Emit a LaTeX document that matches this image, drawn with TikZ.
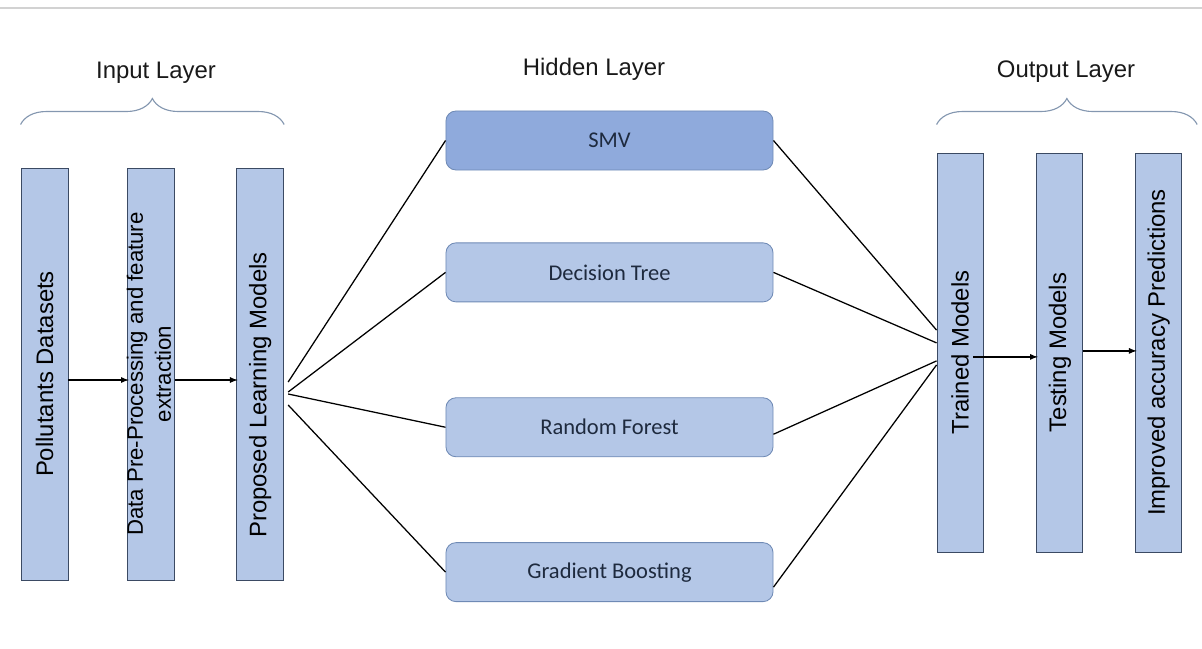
\documentclass[tikz,border=0pt]{standalone}
\usepackage{fontspec}
\setmainfont{Liberation Sans}
\newfontfamily\calibrifont{Carlito}
\usepackage{graphicx}
\usetikzlibrary{positioning,arrows,decorations.pathreplacing}

\definecolor{COL_FILL}{HTML}{B4C7E7}
\definecolor{SMV_FILL}{HTML}{8FAADC}
\definecolor{COL_BORDER}{HTML}{3B4A63}
\definecolor{BOX_BORDER}{HTML}{6F8AB5}
\definecolor{BRACE_COLOR}{HTML}{8497B0}
\definecolor{BOX_TEXT}{HTML}{1E2A3E}
\tikzstyle{layer} = [rectangle, draw=COL_BORDER, line width=0.6pt, fill=COL_FILL, inner sep=0pt]
\tikzstyle{in_stack} = [layer, minimum width=1.175cm, minimum height=10.3cm, font=\fontsize{17}{20}\selectfont]
\tikzstyle{out_stack} = [layer, minimum width=1.15cm, minimum height=9.975cm, font=\fontsize{17}{20}\selectfont]
\tikzstyle{hidden_box} = [layer, draw=BOX_BORDER, rounded corners=0.25cm, minimum width=8.175cm, minimum height=1.475cm, font=\calibrifont\fontsize{16}{19}\selectfont, text=BOX_TEXT]
\tikzstyle{layer_title} = [font=\fontsize{17}{20}\selectfont, text=black!90]
\tikzstyle{link} = [line width=0.9pt, black]
\tikzstyle{arr} = [link, -latex, shorten >=-1pt]
\tikzstyle{curly} = [decorate, decoration={brace, amplitude=0.65cm, aspect=0.5}, draw=BRACE_COLOR, line width=0.8pt]

\begin{document}
\begin{tikzpicture}[x=0.025cm, y=-0.025cm]
      \useasboundingbox (0,0) rectangle (1202,649);
      \draw[gray!35, line width=1.5pt] (0,8) -- (1202,8);

      %%%%%%%%%%%%%%%%%%%%%%%%%%%%%%%%%%%%%%%%%%%%%%%%%
      % INPUT LAYER
      %%%%%%%%%%%%%%%%%%%%%%%%%%%%%%%%%%%%%%%%%%%%%%%%%
      \node[in_stack] (PD) at (44.5,374) {\rotatebox{90}{Pollutants Datasets}};
      \node[in_stack, font=\fontsize{15.8}{19.9}\selectfont, right=1.475cm of PD] (DPP) {\makebox[0pt]{\rotatebox{90}{\begin{tabular}{@{}c@{}}Data Pre-Processing and feature\\extraction\end{tabular}}}};
      \node[in_stack, right=1.525cm of DPP] (PLM) {\rotatebox{90}{\hspace*{-1.05cm}Proposed Learning Models}};

      \node[layer_title] (IL) at (156,73) {Input Layer};
      \draw[curly] ([yshift=1.075cm]PD.north west) -- ([yshift=1.075cm]PLM.north east);

      %%%%%%%%%%%%%%%%%%%%%%%%%%%%%%%%%%%%%%%%%%%%%%%%%
      % HIDDEN LAYER
      %%%%%%%%%%%%%%%%%%%%%%%%%%%%%%%%%%%%%%%%%%%%%%%%%
      \node[layer_title] (HL) at (594,69) {Hidden Layer};
      \node[hidden_box, fill=SMV_FILL] (SMV) at (609.5,140.5) {SMV};
      \node[hidden_box, below=1.8cm of SMV] (DT) {Decision Tree};
      \node[hidden_box, below=2.375cm of DT] (RF) {Random Forest};
      \node[hidden_box, below=2.125cm of RF] (GB) {Gradient Boosting};

      %%%%%%%%%%%%%%%%%%%%%%%%%%%%%%%%%%%%%%%%%%%%%%%%%
      % OUTPUT LAYER
      %%%%%%%%%%%%%%%%%%%%%%%%%%%%%%%%%%%%%%%%%%%%%%%%%
      \node[out_stack] (TM) at (960,352.5) {\rotatebox{90}{Trained Models}};
      \node[out_stack, right=1.325cm of TM] (TSM) {\rotatebox{90}{Testing Models}};
      \node[out_stack, right=1.3cm of TSM] (IAP) {\rotatebox{90}{Improved accuracy Predictions}};

      \node[layer_title] (OL) at (1066,72) {Output Layer};
      \draw[curly] ([yshift=0.7cm]TM.north west) -- ([xshift=0.375cm,yshift=0.7cm]IAP.north east);

      % input chain
      \draw[arr] ([yshift=-0.15cm]PD.east) -- ([yshift=-0.15cm]DPP.west);
      \draw[arr] ([yshift=-0.15cm]DPP.east) -- ([yshift=-0.15cm]PLM.west);

      % fan out
      \draw[link] ([xshift=0.1cm,yshift=-0.2cm]PLM.east) -- (SMV.west);
      \draw[link] ([xshift=0.1cm,yshift=-0.45cm]PLM.east) -- (DT.west);
      \draw[link] ([xshift=0.1cm,yshift=-0.5cm]PLM.east) -- (RF.west);
      \draw[link] ([xshift=0.1cm,yshift=-0.775cm]PLM.east) -- (GB.west);

      % fan in
      \draw[link] (SMV.east) -- ([yshift=0.56cm]TM.west);
      \draw[link] (DT.east) -- ([yshift=0.24cm]TM.west);
      \draw[link] ([yshift=-0.175cm]RF.east) -- ([yshift=-0.21cm]TM.west);
      \draw[link] ([yshift=-0.375cm]GB.east) -- ([yshift=-0.31cm]TM.west);

      % output chain
      \draw[arr] ([xshift=-0.25cm,yshift=-0.11cm]TM.east) -- ([yshift=-0.11cm]TSM.west);
      \draw[arr] ([yshift=0.04cm]TSM.east) -- ([yshift=0.04cm]IAP.west);
\end{tikzpicture}
\end{document}
